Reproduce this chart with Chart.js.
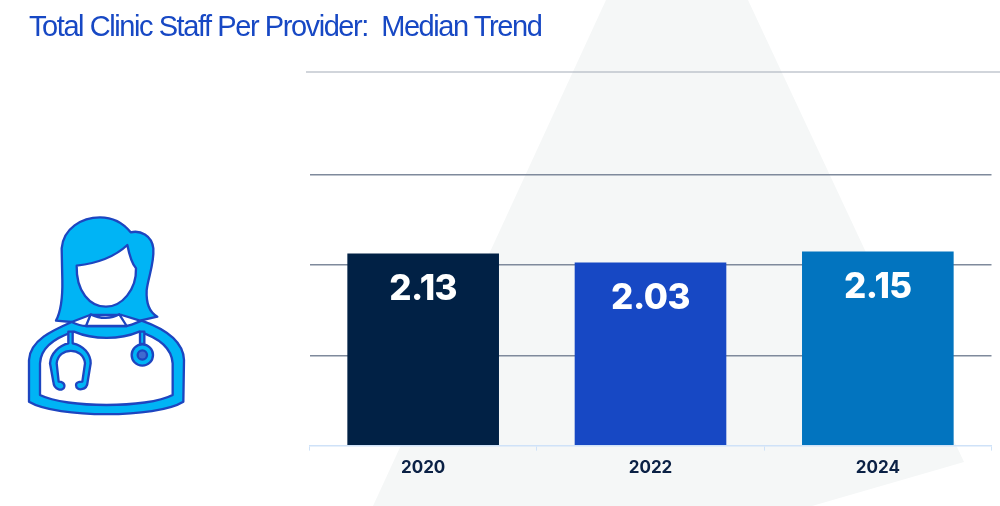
<!DOCTYPE html>
<html>
<head>
<meta charset="utf-8">
<title>Total Clinic Staff Per Provider</title>
<script src="https://cdn.jsdelivr.net/npm/chart.js@4"></script>
<style>
  html, body { margin: 0; padding: 0; background: #fff; overflow: hidden; }
  #stage { position: relative; width: 1000px; height: 506px; overflow: hidden; }
  #backdrop, #icon, #chart { position: absolute; }
  #backdrop { left: 0; top: 0; }
  #icon { left: 0; top: 200px; }
  #chart { left: 0; top: 0; }
  h1 {
    position: absolute; left: 29px; top: 10px; margin: 0;
    font: 400 29px "Liberation Sans", sans-serif;
    letter-spacing: -1.43px; color: #1748c4; white-space: pre;
  }
</style>
</head>
<body>
<div id="stage">
  <svg id="backdrop" width="1000" height="506">
    <polygon points="606,0 748,0 964,462 812,506 373,506" fill="#f5f7f7"/>
  </svg>
  <canvas id="chart" width="1000" height="506"></canvas>
  <h1>Total Clinic Staff Per Provider:  Median Trend</h1>
  <svg id="icon" width="220" height="220" viewBox="0 0 660 660">
    <g stroke="#1d45c0" stroke-width="7" stroke-linejoin="round" stroke-linecap="round">
      <path fill="#00b4f5" d="M185 145 C190 85 245 52 300 52 C340 52 372 72 392 97 C420 90 455 105 460 145 C463 190 445 230 440 270 C438 310 450 338 472 350 L420 362 L365 345 L270 345 L215 366 L168 362 C185 330 188 290 187 240 Z"/>
      <path fill="#fff" d="M230 197 C290 190 345 170 382 135 C388 165 395 190 408 205 C410 270 365 320 318 320 C270 320 228 275 230 197 Z"/>
      <path fill="#00b4f5" fill-rule="evenodd" d="M215 366 C240 378 250 378 258 378 L380 378 C395 375 410 368 425 362 C490 385 550 420 552 480 L550 605 C470 655 170 655 87 605 L87 480 C90 420 160 390 215 366 Z M222 395 C160 415 122 445 120 490 L120 585 C200 625 440 625 518 585 L518 490 C515 445 480 415 418 395 C360 420 280 420 222 395 Z"/>
      <path fill="#fff" d="M272 343 C300 357 335 357 358 343 L380 378 L258 378 Z"/>
      <path fill="#00b4f5" d="M205 395 L218 395 L218 430 C250 436 272 462 272 490 L263 545 C262 572 228 575 228 555 C228 545 240 545 247 545 L255 490 C250 440 175 440 170 490 L176 545 C184 545 195 548 193 560 C190 575 162 572 160 545 L150 490 C152 460 178 436 205 430 Z"/>
      <path fill="#00b4f5" d="M420 395 L433 395 L433 432 L420 432 Z"/>
      <circle cx="427" cy="465" r="32" fill="#00b4f5"/>
      <circle cx="427" cy="465" r="14" fill="#3f6bd0"/>
    </g>
  </svg>
</div>
<script>
const categories = ['2020', '2022', '2024'];
const medianValues = [2.13, 2.03, 2.15];
const valueLabels = ['2.13', '2.03', '2.15'];
const barColors = ['#012145', '#1748c4', '#0274bf'];
const yTicks = [0, 1, 2, 3, 4.14];
const topTick = 4.14;

// Value labels sit inside the bars, a fixed distance under the top
const insideLabels = {
  id: 'insideLabels',
  afterDatasetsDraw(chart) {
    const ctx = chart.ctx;
    const bars = chart.getDatasetMeta(0).data;
    ctx.save();
    ctx.fillStyle = '#ffffff';
    ctx.font = '800 35px Inter, sans-serif';
    ctx.letterSpacing = '-0.5px';
    ctx.textAlign = 'center';
    ctx.textBaseline = 'middle';
    bars.forEach((bar, i) => {
      ctx.fillText(valueLabels[i], bar.x, bar.y + 36);
    });
    ctx.restore();
  }
};

// The top rule runs a little wider than the others, to the page edge
const topRule = {
  id: 'topRule',
  beforeDatasetsDraw(chart) {
    const ctx = chart.ctx;
    const y = chart.scales.y.getPixelForValue(topTick);
    ctx.save();
    ctx.strokeStyle = '#a4acb8';
    ctx.lineWidth = 1.2;
    ctx.beginPath();
    ctx.moveTo(chart.chartArea.left - 3.5, y);
    ctx.lineTo(chart.width, y);
    ctx.stroke();
    ctx.restore();
  }
};

new Chart(document.getElementById('chart'), {
  type: 'bar',
  data: {
    labels: categories,
    datasets: [{
      data: medianValues,
      backgroundColor: barColors,
      categoryPercentage: 0.667,
      barPercentage: 1,
      borderWidth: 0
    }]
  },
  plugins: [insideLabels, topRule],
  options: {
    responsive: false,
    animation: false,
    layout: { padding: { left: 309.5, right: 8.5, top: 72, bottom: 21 } },
    plugins: { legend: { display: false }, tooltip: { enabled: false } },
    scales: {
      x: {
        grid: { display: true, drawOnChartArea: false, drawTicks: true, tickLength: 5, color: '#cfe2f8', offset: true },
        border: { color: '#cfe2f8', width: 1.5 },
        ticks: { color: '#0b2145', font: { family: 'Inter', size: 17, weight: '700' }, padding: 7 }
      },
      y: {
        min: 0,
        max: topTick,
        afterBuildTicks: scale => { scale.ticks = yTicks.map(value => ({ value })); },
        grid: {
          color: ctx => (ctx.tick && ctx.tick.value === topTick) || ctx.tick.value === 0 ? 'rgba(0,0,0,0)' : '#7f8a9c',
          lineWidth: 1.4,
          drawTicks: false
        },
        border: { display: false },
        ticks: { display: false }
      }
    }
  }
});
</script>
</body>
</html>
